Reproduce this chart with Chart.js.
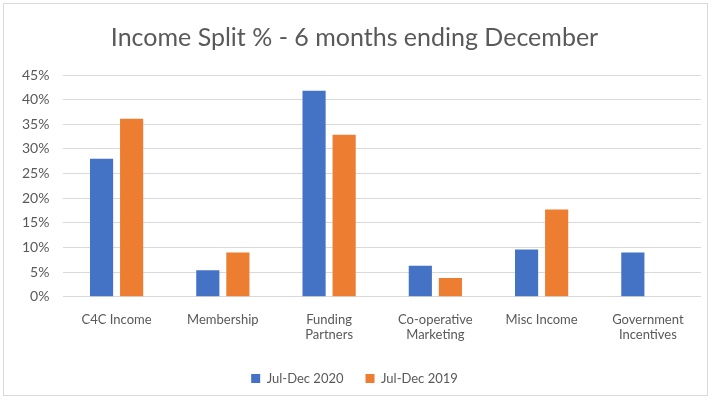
<!DOCTYPE html>
<html>
<head>
<meta charset="utf-8">
<script src="https://cdn.jsdelivr.net/npm/chart.js@4/dist/chart.umd.min.js"></script>
<style>
  html, body { margin: 0; padding: 0; background: #fff; }
  #wrap { position: absolute; left: 3px; top: 3px; width: 705px; height: 393px; border: 1px solid #d9d9d9; box-sizing: border-box; }
  canvas { display: block; }
</style>
</head>
<body>
<div id="wrap"><canvas id="incomeChart"></canvas></div>
<script>
// Chart data
const categories = [['C4C Income'], ['Membership'], ['Funding', 'Partners'], ['Co-operative', 'Marketing'], ['Misc Income'], ['Government', 'Incentives']];
const seriesNames = ['Jul-Dec 2020', 'Jul-Dec 2019'];
const jul_dec_2020 = [28.0, 5.4, 41.8, 6.3, 9.6, 9.0];
const jul_dec_2019 = [36.1, 9.0, 32.9, 3.8, 17.7, 0];
const yTicks = [0, 5, 10, 15, 20, 25, 30, 35, 40, 45];

document.addEventListener('DOMContentLoaded', () => {
  Chart.defaults.font.family = 'Lato, "Open Sans", sans-serif';
  Chart.defaults.color = '#595959';

  new Chart(document.getElementById('incomeChart'), {
    type: 'bar',
    data: {
      labels: categories,
      datasets: [
        {label: seriesNames[0], data: jul_dec_2020, backgroundColor: '#4472c4', categoryPercentage: 0.566, barPercentage: 0.77},
        {label: seriesNames[1], data: jul_dec_2019, backgroundColor: '#ed7d31', categoryPercentage: 0.566, barPercentage: 0.77}
      ]
    },
    options: {
      responsive: true,
      maintainAspectRatio: false,
      animation: false,
      layout: {padding: {left: 4, right: 6, top: 4, bottom: 0}},
      plugins: {
        title: {display: true, text: 'Income Split % - 6 months ending December', font: {size: 25, weight: 'normal'}, color: '#595959', padding: {top: 15, bottom: 22}},
        legend: {position: 'bottom', labels: {boxWidth: 9, boxHeight: 9, font: {size: 13}, padding: 22}},
        tooltip: {enabled: false}
      },
      scales: {
        x: {
          grid: {display: false},
          border: {display: false},
          ticks: {font: {size: 13}, maxRotation: 0, autoSkip: false, padding: 7}
        },
        y: {
          min: 0, max: 45,
          afterBuildTicks: axis => { axis.ticks = yTicks.map(v => ({value: v})); },
          grid: {color: '#d9d9d9', drawTicks: false},
          border: {display: false},
          ticks: {font: {size: 14}, padding: 14, callback: v => v + '%'}
        }
      }
    }
  });
});
</script>
</body>
</html>
